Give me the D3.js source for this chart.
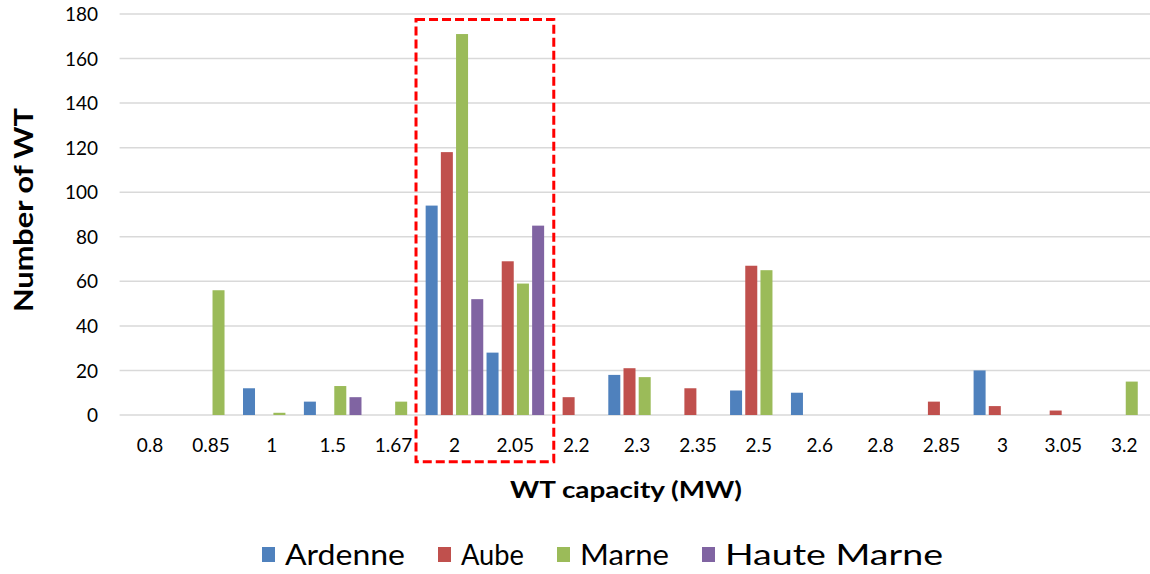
<!DOCTYPE html>
<html>
<head>
<meta charset="utf-8">
<script src="https://cdn.jsdelivr.net/npm/d3@7"></script>
<style>
  html, body { margin: 0; padding: 0; background: #fff; }
  svg { display: block; }
  text { font-family: Lato, "Open Sans", "Noto Sans", sans-serif; }
</style>
</head>
<body>
<svg id="chart" width="1150" height="574"></svg>
<script>
// ---- data ----
const categories = ["0.8","0.85","1","1.5","1.67","2","2.05","2.2","2.3","2.35","2.5","2.6","2.8","2.85","3","3.05","3.2"];
const seriesNames = ["Ardenne","Aube","Marne","Haute Marne"];
const ardenne    = [0, 0,12, 6,0, 94,28,0,18, 0,11,10,0,0,20,0, 0];
const aube       = [0, 0, 0, 0,0,118,69,8,21,12,67, 0,0,6, 4,2, 0];
const marne      = [0,56, 1,13,6,171,59,0,17, 0,65, 0,0,0, 0,0,15];
const hauteMarne = [0, 0, 0, 8,0, 52,85,0, 0, 0, 0, 0,0,0, 0,0, 0];
const yTicks = [0,20,40,60,80,100,120,140,160,180];
const highlight = ["2","2.05"];
const colors = ["#4f81bd","#c0504d","#9bbb59","#8064a2"];

const seriesValues = [ardenne, aube, marne, hauteMarne];

const svg = d3.select("#chart");

const x = d3.scaleBand().domain(categories).range([119.6, 1154.6]).padding(0);
const xSub = d3.scaleBand().domain(seriesNames).range([0, x.bandwidth()])
  .paddingInner(0.21).paddingOuter(0.108);
const y = d3.scaleLinear().domain([0,180]).range([415, 14]);

// gridlines
const grid = svg.append("g");
grid.selectAll("line").data(yTicks).join("line")
  .attr("x1", 119.6).attr("x2", 1150)
  .attr("y1", d => y(d)).attr("y2", d => y(d))
  .attr("stroke", "#d9d9d9").attr("stroke-width", 1.5);

// y axis labels
const yAxis = svg.append("g").attr("transform", "translate(98,0)")
  .call(d3.axisLeft(y).tickValues(yTicks).tickSize(0).tickPadding(0));
yAxis.select(".domain").remove();
yAxis.selectAll("text").attr("font-size", 19).attr("fill", "#000")
  .attr("font-family", "Lato, sans-serif").attr("dy", "0.35em");

// x axis labels
const xAxis = svg.append("g").attr("transform", "translate(0,415)")
  .call(d3.axisBottom(x).tickSize(0).tickPadding(0));
xAxis.select(".domain").remove();
xAxis.selectAll("text").attr("font-size", 19).attr("fill", "#000")
  .attr("font-family", "Lato, sans-serif").attr("y", 37).attr("dy", 0);

// bars
const flat = [];
categories.forEach((c, i) => {
  seriesNames.forEach((s, j) => {
    flat.push({cat: c, series: s, value: seriesValues[j][i], color: colors[j]});
  });
});
svg.append("g").selectAll("rect").data(flat.filter(d => d.value > 0)).join("rect")
  .attr("x", d => x(d.cat) + xSub(d.series))
  .attr("width", xSub.bandwidth())
  .attr("y", d => y(d.value))
  .attr("height", d => y(0) - y(d.value))
  .attr("fill", d => d.color);

// highlight box
const bx0 = x(highlight[0]) - 8;
const bx1 = x(highlight[1]) + x.bandwidth() + 8;
svg.append("rect")
  .attr("x", bx0).attr("y", y(177.5))
  .attr("width", bx1 - bx0).attr("height", y(-21) - y(177.5))
  .attr("fill", "none").attr("stroke", "#ff0000").attr("stroke-width", 3)
  .attr("stroke-dasharray", "9,4");

// axis titles
svg.append("text")
  .attr("transform", "translate(33,210) rotate(-90)")
  .attr("text-anchor", "middle")
  .attr("font-size", 27).attr("font-weight", "bold").attr("fill", "#000")
  .attr("textLength", 204).attr("lengthAdjust", "spacingAndGlyphs")
  .text("Number of WT");

svg.append("text")
  .attr("x", 626).attr("y", 498)
  .attr("text-anchor", "middle")
  .attr("font-size", 22).attr("font-weight", "bold").attr("fill", "#000")
  .attr("textLength", 232).attr("lengthAdjust", "spacingAndGlyphs")
  .text("WT capacity (MW)");

// legend
const legendWidths = [120, 63, 89, 218];
const legend = svg.append("g");
let lx = 262;
seriesNames.forEach((s, i) => {
  legend.append("rect").attr("x", lx).attr("y", 547).attr("width", 13).attr("height", 15)
    .attr("fill", colors[i]);
  legend.append("text").attr("x", lx + 23).attr("y", 565)
    .attr("font-size", 28).attr("fill", "#000")
    .attr("textLength", legendWidths[i]).attr("lengthAdjust", "spacingAndGlyphs")
    .text(s);
  lx += 23 + legendWidths[i] + 33;
});
</script>
</body>
</html>
